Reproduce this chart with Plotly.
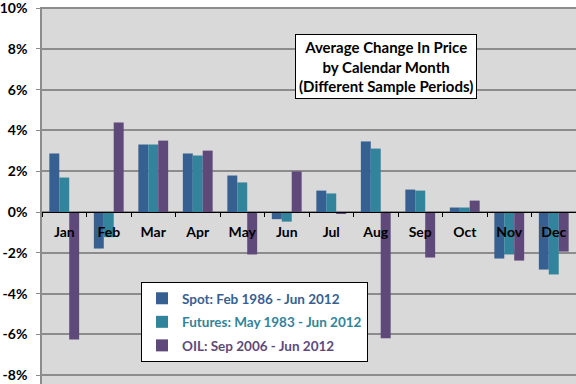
import plotly.graph_objects as go

months = ["Jan", "Feb", "Mar", "Apr", "May", "Jun", "Jul", "Aug", "Sep", "Oct", "Nov", "Dec"]
spot = [2.87, -1.79, 3.31, 2.87, 1.79, -0.35, 1.05, 3.46, 1.10, 0.22, -2.28, -2.82]
futures = [1.69, -1.23, 3.31, 2.77, 1.45, -0.47, 0.91, 3.11, 1.05, 0.22, -2.08, -3.06]
oil = [-6.25, 4.39, 3.50, 3.01, -2.08, 1.99, -0.06, -6.19, -2.23, 0.56, -2.38, -1.94]
y_ticks = [-8, -6, -4, -2, 0, 2, 4, 6, 8, 10]

names = ["Spot: Feb 1986 - Jun 2012", "Futures: May 1983 - Jun 2012", "OIL: Sep 2006 - Jun 2012"]
colors = ["#376092", "#31849B", "#5F497A"]
series = [spot, futures, oil]

FONT = "Lato"

fig = go.Figure()
for i, (nm, col, vals) in enumerate(zip(names, colors, series)):
    fig.add_trace(go.Bar(
        x=months, y=vals,
        name=f'<span style="color:{col}">{nm}</span>',
        marker=dict(color=col, line=dict(width=0)),
        legendgroup=f"g{i}",
    ))

fig.update_layout(
    width=576, height=384,
    margin=dict(l=42, r=0, t=7, b=0, autoexpand=False),
    paper_bgcolor="white",
    plot_bgcolor="#D9D9D9",
    barmode="group",
    bargap=0.33,
    bargroupgap=0,
    font=dict(family=FONT, size=13, color="black"),
    showlegend=True,
    legend=dict(
        x=(141 - 42) / 534, y=(384 - 282) / 377,
        xanchor="left", yanchor="top",
        bgcolor="white", bordercolor="black", borderwidth=1,
        font=dict(family=FONT, size=13.5, color="black", weight="bold"),
        traceorder="grouped", tracegroupgap=3,
        itemwidth=30,
    ),
    xaxis=dict(
        anchor="free", position=8.43 / 18.48,
        automargin=False,
        showline=True, linecolor="black", linewidth=1,
        ticks="outside", ticklen=4, tickcolor="black",
        tickson="boundaries",
        ticklabelstandoff=7,
        showgrid=False,
        tickfont=dict(family=FONT, size=14, color="black", weight="bold"),
        layer="above traces",
    ),
    yaxis=dict(
        range=[-8.43, 10.05],
        automargin=False,
        tickmode="array", tickvals=y_ticks,
        ticktext=[f"{v}%" for v in y_ticks],
        ticklabeloverflow="allow",
        ticklabelstandoff=6,
        showgrid=True, gridcolor="#8C8C8C", gridwidth=1.5,
        zeroline=False,
        showline=True, linecolor="#8C8C8C", linewidth=1.5,
        ticks="outside", ticklen=4, tickcolor="#8C8C8C",
        tickfont=dict(family=FONT, size=14, color="black", weight="bold"),
    ),
    annotations=[dict(
        text="Average Change In Price<br>by Calendar Month<br>(Different Sample Periods)",
        xref="paper", yref="paper",
        x=(385.5 - 42) / 534, y=(384 - 66.5) / 377,
        xanchor="center", yanchor="middle",
        showarrow=False,
        bgcolor="white", bordercolor="black", borderwidth=1, borderpad=3,
        font=dict(family=FONT, size=15, color="black", weight="bold"),
        align="center",
    )],
)

fig.write_html(
    "out.html",
    config={"displayModeBar": False},
    post_script="document.body.style.margin='0';document.body.style.padding='0';",
)
